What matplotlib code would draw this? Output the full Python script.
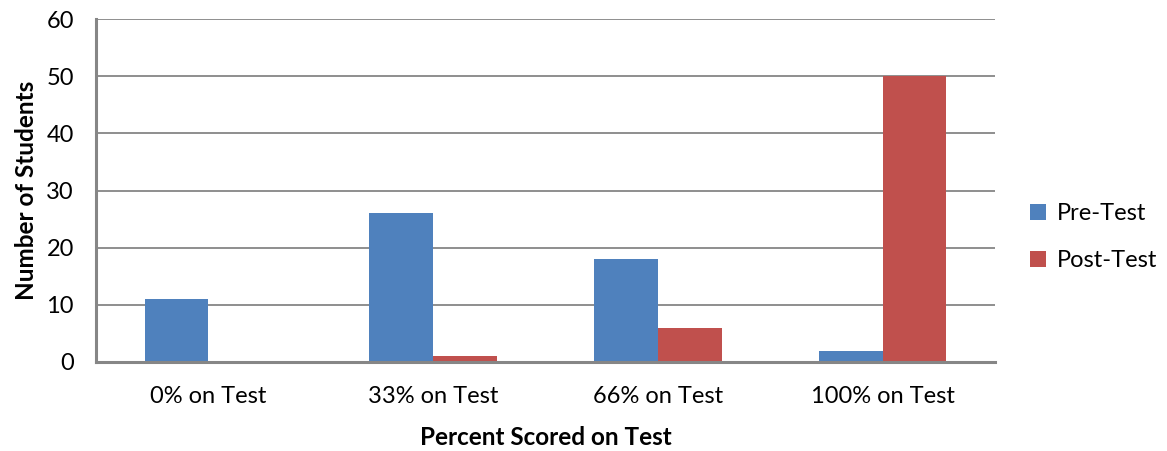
import matplotlib
matplotlib.use("Agg")
import matplotlib.pyplot as plt
import numpy as np

# ── data ────────────────────────────────────────────────────────────────────
categories = ["0% on Test", "33% on Test", "66% on Test", "100% on Test"]
pre_test = [11, 26, 18, 2]
post_test = [0, 1, 6, 50]

BLUE = "#4F81BD"
RED = "#C0504D"
GREY = "#868686"

plt.rcParams["font.family"] = ["Lato", "DejaVu Sans"]

fig = plt.figure(figsize=(11.67, 4.51), dpi=100)
ax = fig.add_axes([96 / 1167, 1 - 362 / 451, (995 - 96) / 1167, (362 - 19) / 451])

x = np.arange(len(categories))
w = 0.284
ax.bar(x - w / 2, pre_test, w, color=BLUE, label="Pre-Test", zorder=3)
ax.bar(x + w / 2, post_test, w, color=RED, label="Post-Test", zorder=3)

ax.set_xlim(-0.5, len(categories) - 0.5)
ax.set_ylim(0, 60)
ax.set_yticks(range(0, 61, 10))
ax.set_xticks(x)
ax.set_xticklabels(categories, fontsize=17)
ax.tick_params(axis="y", labelsize=17, length=0, pad=16)
ax.tick_params(axis="x", length=0, pad=17)

ax.grid(axis="y", color=GREY, linewidth=1.3, zorder=0)
for side in ["top", "right"]:
    ax.spines[side].set_visible(False)
for side in ["left", "bottom"]:
    ax.spines[side].set_color(GREY)
    ax.spines[side].set_linewidth(2.2)
    ax.spines[side].set_zorder(4)

ax.set_ylabel("Number of Students", fontsize=17.5, fontweight="bold", labelpad=6)
ax.set_xlabel("Percent Scored on Test", fontsize=17.5, fontweight="bold", labelpad=14)

ax.legend(loc="center left", bbox_to_anchor=(1.015, 0.364), frameon=False,
          fontsize=17, handlelength=0.7, handleheight=0.7, labelspacing=1.1,
          handletextpad=0.45)

fig.savefig("out.png", dpi=100)
